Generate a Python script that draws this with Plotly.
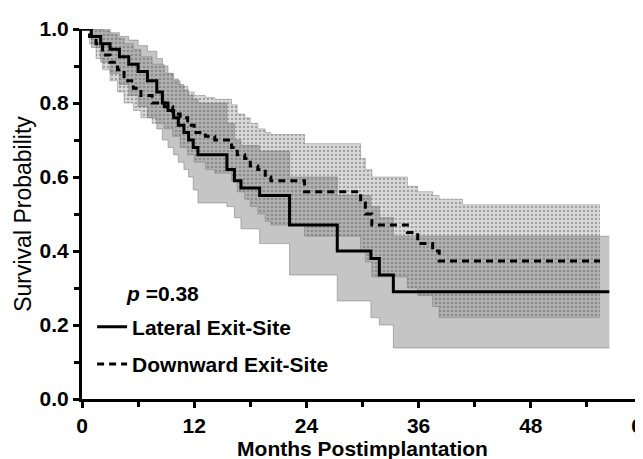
import plotly.graph_objects as go

# ---- data ----
# Lateral exit-site: event times (months), survival, lower CI, upper CI
lat_t  = [0, 1.0, 2.0, 3.0, 4.0, 5.0, 6.0, 7.0, 8.0, 8.6, 9.2, 9.8, 10.3, 10.9, 11.4, 11.9, 12.4,
          15.5, 16.3, 17.0, 19.0, 22.2, 27.3, 30.9, 31.8, 33.3, 56.4]
lat_s  = [1.0, 0.98, 0.96, 0.945, 0.925, 0.905, 0.885, 0.86, 0.83, 0.80, 0.78, 0.76, 0.74, 0.72, 0.70, 0.68, 0.66,
          0.62, 0.59, 0.57, 0.55, 0.47, 0.40, 0.38, 0.335, 0.29, 0.29]
lat_lo = [1.0, 0.95, 0.91, 0.88, 0.85, 0.82, 0.79, 0.76, 0.73, 0.70, 0.68, 0.66, 0.64, 0.62, 0.60, 0.565, 0.53,
          0.52, 0.49, 0.46, 0.42, 0.335, 0.265, 0.22, 0.20, 0.138, 0.138]
lat_hi = [1.0, 1.0, 1.0, 0.99, 0.98, 0.97, 0.955, 0.94, 0.92, 0.90, 0.88, 0.865, 0.85, 0.835, 0.82, 0.81, 0.80,
          0.745, 0.70, 0.685, 0.67, 0.60, 0.55, 0.52, 0.49, 0.44, 0.44]

# Downward exit-site
dwn_t  = [0, 0.8, 1.5, 2.2, 3.0, 3.8, 4.5, 5.5, 6.3, 7.5, 8.8, 9.7, 10.5, 11.3, 12.0, 13.2, 14.2, 16.0, 16.6,
          17.4, 18.0, 18.8, 19.6, 20.2, 23.8, 29.8, 30.3, 31.0, 34.8, 35.9, 37.5, 38.2, 40.7, 55.4]
dwn_s  = [1.0, 0.98, 0.96, 0.93, 0.91, 0.89, 0.86, 0.84, 0.82, 0.80, 0.79, 0.77, 0.76, 0.74, 0.72, 0.71, 0.70, 0.68, 0.66,
          0.65, 0.63, 0.62, 0.60, 0.59, 0.56, 0.53, 0.50, 0.47, 0.45, 0.42, 0.40, 0.373, 0.373, 0.373]
dwn_lo = [1.0, 0.96, 0.92, 0.89, 0.86, 0.83, 0.80, 0.78, 0.76, 0.745, 0.73, 0.71, 0.68, 0.66, 0.64, 0.62, 0.61, 0.59, 0.56,
          0.54, 0.52, 0.50, 0.48, 0.47, 0.44, 0.40, 0.37, 0.33, 0.30, 0.28, 0.25, 0.22, 0.22, 0.22]
dwn_hi = [1.0, 1.0, 1.0, 0.995, 0.985, 0.975, 0.96, 0.945, 0.925, 0.905, 0.88, 0.86, 0.845, 0.83, 0.82, 0.815, 0.81, 0.795, 0.77,
          0.76, 0.745, 0.73, 0.72, 0.715, 0.69, 0.65, 0.62, 0.60, 0.575, 0.56, 0.55, 0.54, 0.525, 0.525]

series_names = ["Lateral Exit-Site", "Downward Exit-Site"]
p_text = "<i>p</i> =0.38"
x_ticks = [0, 12, 24, 36, 48, 60]
y_ticks = [0.0, 0.2, 0.4, 0.6, 0.8, 1.0]

FONT = "Liberation Sans, Arial, sans-serif"

fig = go.Figure()

# Lateral CI band (solid gray)
fig.add_trace(go.Scatter(x=lat_t, y=lat_lo, mode="lines", line=dict(shape="hv", width=0.8, color="rgba(110,110,110,0.6)"),
                         showlegend=False, hoverinfo="skip", cliponaxis=False))
fig.add_trace(go.Scatter(x=lat_t, y=lat_hi, mode="lines", line=dict(shape="hv", width=0.8, color="rgba(110,110,110,0.6)"),
                         fill="tonexty", fillcolor="rgba(150,150,150,0.55)",
                         showlegend=False, hoverinfo="skip", cliponaxis=False))

# Downward CI band (light dotted)
fig.add_trace(go.Scatter(x=dwn_t, y=dwn_lo, mode="lines", line=dict(shape="hv", width=0.8, color="rgba(110,110,110,0.5)"),
                         showlegend=False, hoverinfo="skip", cliponaxis=False))
fig.add_trace(go.Scatter(x=dwn_t, y=dwn_hi, mode="lines", line=dict(shape="hv", width=0.8, color="rgba(110,110,110,0.5)"),
                         fill="tonexty",
                         fillpattern=dict(shape=".", bgcolor="rgba(125,125,125,0.28)", fgcolor="rgb(90,90,90)",
                                          fgopacity=0.45, size=4, solidity=0.35),
                         showlegend=False, hoverinfo="skip", cliponaxis=False))

# Survival curves
fig.add_trace(go.Scatter(x=lat_t, y=lat_s, mode="lines", name=series_names[0], legendgroup="a",
                         line=dict(shape="hv", width=3, color="black"), cliponaxis=False))
fig.add_trace(go.Scatter(x=dwn_t, y=dwn_s, mode="lines", name=series_names[1], legendgroup="b",
                         line=dict(shape="hv", width=3, color="black", dash="7px,5px"), cliponaxis=False))

fig.add_annotation(text=p_text, xref="paper", yref="paper", x=0.075, y=0.285, xanchor="left", yanchor="middle",
                   showarrow=False, font=dict(family=FONT, size=21, color="black", weight="bold"))

fig.update_layout(
    width=643, height=459,
    margin=dict(l=74, r=8, t=21, b=68),
    paper_bgcolor="white", plot_bgcolor="white",
    font=dict(family=FONT, color="black"),
    legend=dict(x=0.018, y=0.25, xanchor="left", yanchor="top", bgcolor="rgba(0,0,0,0)",
                font=dict(family=FONT, size=21, color="black", weight="bold"),
                traceorder="grouped", tracegroupgap=7, itemwidth=30),
    xaxis=dict(range=[0, 60], tickvals=x_ticks, ticks="outside", ticklen=6, tickwidth=2.5, tickcolor="black",
               minor=dict(dtick=6, ticks="outside", ticklen=5, tickwidth=2.5, tickcolor="black"),
               showline=True, linewidth=3, linecolor="black", showgrid=False, zeroline=False,
               ticklabeloverflow="allow", automargin=False,
               tickfont=dict(family=FONT, size=21, color="black", weight="bold"),
               title=dict(text="Months Postimplantation", standoff=1,
                          font=dict(family=FONT, size=21, color="black", weight="bold"))),
    yaxis=dict(range=[0, 1], tickvals=y_ticks, tickformat=".1f", ticks="outside", ticklen=6, tickwidth=2.5,
               tickcolor="black", automargin=False,
               minor=dict(dtick=0.1, ticks="outside", ticklen=5, tickwidth=2.5, tickcolor="black"),
               showline=True, linewidth=3, linecolor="black", showgrid=False, zeroline=False,
               tickfont=dict(family=FONT, size=21, color="black", weight="bold"),
               title=dict(text="Survival Probability", standoff=2,
                          font=dict(family=FONT, size=23, color="black"))),
)

fig.write_html("out.html")
